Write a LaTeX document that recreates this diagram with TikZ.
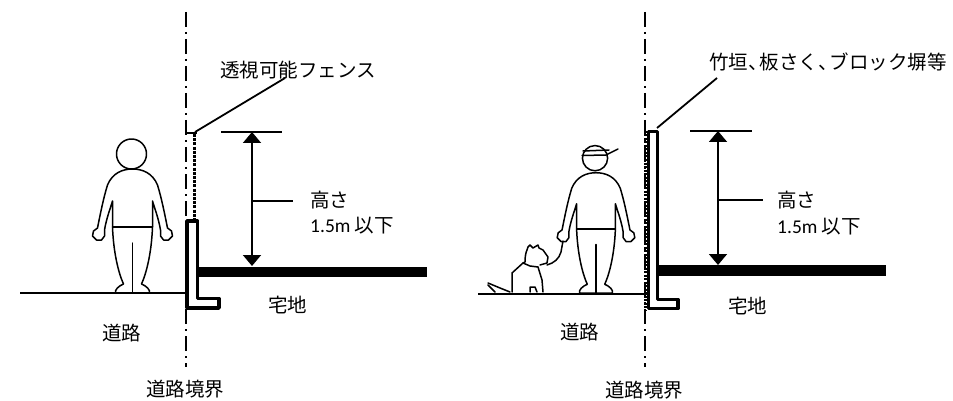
\documentclass[tikz,border=0pt]{standalone}
\usepackage{fontspec}
\setmainfont{Noto Sans CJK JP}
\newfontfamily\lat{Carlito}
\usetikzlibrary{arrows.meta}
\tikzset{
  bnd/.style={line width=2pt, dash pattern=on 15pt off 5pt on 2pt off 5pt},
  ln/.style={line width=1.8pt},
  wall/.style={line width=3.6pt, line join=round},
  slab/.style={fill=black, draw=none},
  dimarrow/.style={line width=1.8pt, {Triangle[width=18pt,length=11pt]}-{Triangle[width=18pt,length=11pt]}},
  lbl/.style={anchor=west, inner sep=0pt, font=\fontsize{19.5pt}{22pt}\selectfont},
  fig/.style={line width=1.5pt, line join=round, line cap=round},
  fencedot/.style={line width=2.2pt, dash pattern=on 3pt off 1.2pt},
  man/.pic={
    \foreach \s in {1,-1}{
      \draw[fig, xscale=\s] (0,-124) .. controls (-10,-124) and (-20,-120) .. (-25,-108)
        .. controls (-29,-95) and (-32,-80) .. (-35,-65)
        -- (-39,-62) -- (-40,-57) -- (-36,-53) -- (-31,-53) -- (-28,-57) -- (-28,-63)
        .. controls (-26,-75) and (-22,-85) .. (-20,-92)
        -- (-20,-66)
        .. controls (-19,-40) and (-14,-20) .. (-9,-9)
        .. controls (-14,-7) and (-18,-3) .. (-17,0)
        -- (0,0);
    }
    \draw[fig] (-1,-139) circle (#1);
    \draw[fig] (-20,-66) -- (20,-66);
    \draw[fig] (0,-50) -- (0,0);
  }
}
\begin{document}
\begin{tikzpicture}[x=1pt,y=-1pt]
\useasboundingbox (0,0) rectangle (953,401);

% ================= LEFT PANEL =================
\coordinate (LbT) at (186,12);
\coordinate (LbB) at (186,367);
\draw[bnd] (LbT) -- (LbB);

% ground
\coordinate (LgA) at (20,293);
\coordinate (LgB) at (187,293);
\draw[ln] (LgA) -- (LgB);

% person
\path (132.5,293) pic {man=15};

% fence (see-through)
\coordinate (LfTL) at (186,133);
\coordinate (LfTR) at (197,133);
\coordinate (LfB) at (194.5,220);
\draw[line width=1.6pt] (LfTL) -- (LfTR);
\draw[fencedot] (194.5,134) -- (LfB);

% L wall
\draw[wall] (187,221) -- (197.5,221) -- (197.5,298.5) -- (219,298.5) -- (219,308) -- (187,308) -- cycle;

% slab
\fill[slab] (199,266.5) rectangle (427,276.5);

% fence label
\node[lbl] (Lfence) at (220,70) {透視可能フェンス};
\coordinate (LlA) at (285,78);
\coordinate (LlB) at (195,132);
\draw[ln] (LlA) -- (LlB);

% dimension
\coordinate (LdA) at (221,132);
\coordinate (LdB) at (282,132);
\draw[ln] (LdA) -- (LdB);
\coordinate (LaT) at (252,132);
\coordinate (LaB) at (252,266);
\draw[dimarrow] (LaT) -- (LaB);
\coordinate (LhA) at (252,201);
\coordinate (LhB) at (293,201);
\draw[ln] (LhA) -- (LhB);
\node[lbl] (Lh1) at (310,200) {高さ};
\node[lbl] (Lh2) at (310,226) {{\lat 1.5m} 以下};

\node[lbl] (Ltaku) at (268,305) {宅地};
\node[lbl] (Lroad) at (102,333) {道路};
\node[lbl] (Lbnd) at (146,389) {道路境界};

% ================= RIGHT PANEL =================
\coordinate (RbT) at (645,12);
\coordinate (RbB) at (645,367);
\draw[bnd] (RbT) -- (RbB);

% ground
\coordinate (RgA) at (478,294);
\coordinate (RgB) at (647,294);
\draw[ln] (RgA) -- (RgB);

% person with cap
\path (596,293) pic[scale=0.97] {man=13};
\draw[fig] (583,151) -- (609,150);
\draw[fig] (582,155.5) -- (606,155) -- (618,149);

% dog
\draw[fig] (488,283) -- (500,288) -- (510,292);
\draw[fig] (488,285) -- (495,292);
\draw[fig] (512,292) -- (512,273) -- (523,263) -- (525,262)
  .. controls (525,256) and (526,252) .. (527,250) -- (528,247) -- (530,245) -- (533,248)
  -- (538,245) -- (539,248) -- (543,250) -- (548,257) -- (547,263) -- (540,265);
\draw[fig] (523,263) -- (530,266) -- (538,267);
\draw[fig] (538,267) -- (542,280) -- (543,292);
\draw[fig] (530,292) -- (530,287) -- (535,287) -- (537,292);
\draw[fig] (547,265) .. controls (554,263) and (559,259) .. (561,252) -- (563,241);

% wall (block etc.)
\draw[line width=2.5pt, dash pattern=on 2pt off 1.5pt] (645.5,131) -- (645.5,310);
\draw[wall] (648.5,131.5) -- (657.5,131.5) -- (657.5,299.5) -- (678,299.5) -- (678,308.5) -- (648.5,308.5) -- cycle;

% slab
\fill[slab] (659,265) rectangle (886,275.5);

% label
\node[lbl] (Rfence) at (709,62) {竹垣、\kern-8pt 板さく、\kern-8pt ブロック塀等};
\coordinate (RlA) at (717,78);
\coordinate (RlB) at (657,128);
\draw[ln] (RlA) -- (RlB);

% dimension
\coordinate (RdA) at (690,131);
\coordinate (RdB) at (752,131);
\draw[ln] (RdA) -- (RdB);
\coordinate (RaT) at (718,131);
\coordinate (RaB) at (718,265);
\draw[dimarrow] (RaT) -- (RaB);
\coordinate (RhA) at (718,200);
\coordinate (RhB) at (763,200);
\draw[ln] (RhA) -- (RhB);
\node[lbl] (Rh1) at (777,200) {高さ};
\node[lbl] (Rh2) at (777,227) {{\lat 1.5m} 以下};

\node[lbl] (Rtaku) at (728,306) {宅地};
\node[lbl] (Rroad) at (560,332) {道路};
\node[lbl] (Rbnd) at (605,390) {道路境界};
\end{tikzpicture}
\end{document}
